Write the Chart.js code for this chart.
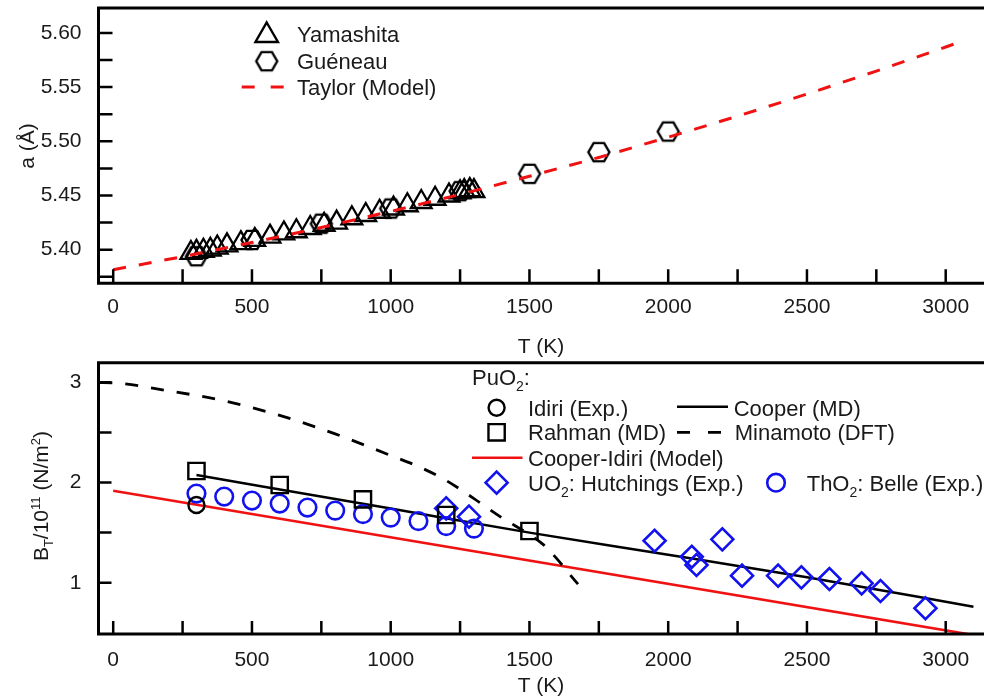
<!DOCTYPE html>
<html><head><meta charset="utf-8">
<script src="https://cdn.jsdelivr.net/npm/chart.js@4.4.0/dist/chart.umd.min.js"></script>
<style>
html,body{margin:0;padding:0;background:#fff;width:984px;height:698px;overflow:hidden;position:relative}
canvas{position:absolute;left:0}
#c1{top:0}
#c2{top:350px}
</style></head>
<body>
<canvas id="c1" width="984" height="360"></canvas>
<canvas id="c2" width="984" height="348"></canvas>
<script>
// ---------- tick values / labels ----------
const xMajorTicks = [0, 500, 1000, 1500, 2000, 2500, 3000];
const xTickLabels = ['0', '500', '1000', '1500', '2000', '2500', '3000'];
const xMinorTicks = [250, 750, 1250, 1750, 2250, 2750];
const aMajorTicks = [5.40, 5.45, 5.50, 5.55, 5.60];
const aTickLabels = ['5.40', '5.45', '5.50', '5.55', '5.60'];
const aMinorTicks = [5.375, 5.425, 5.475, 5.525, 5.575];
const bMajorTicks = [1, 2, 3];
const bTickLabels = ['1', '2', '3'];
const bMinorTicks = [1.5, 2.5];

// ---------- top panel: lattice parameter ----------
const yamashitaT = [280, 300, 325, 350, 375, 410, 460, 510, 565, 615, 660, 710, 760, 805, 860, 910, 960, 1010, 1060, 1110, 1160, 1210, 1250, 1265, 1285, 1300];
const yamashitaA = [5.397, 5.398, 5.399, 5.400, 5.402, 5.404, 5.406, 5.409, 5.412, 5.415, 5.417, 5.420, 5.423, 5.425, 5.429, 5.432, 5.435, 5.438, 5.441, 5.444, 5.447, 5.450, 5.453, 5.454, 5.455, 5.454];
const gueneauT = [300, 500, 750, 1000, 1250, 1500, 1750, 2000];
const gueneauA = [5.394, 5.409, 5.424, 5.438, 5.454, 5.470, 5.490, 5.509];
const taylorT = [0, 250, 500, 750, 1000, 1250, 1500, 1750, 2000, 2250, 2500, 2750, 3000, 3050];
const taylorA = [5.3815, 5.3936, 5.4066, 5.4205, 5.4353, 5.4510, 5.4677, 5.4851, 5.5038, 5.5232, 5.5436, 5.5648, 5.5870, 5.5915];

// ---------- bottom panel: bulk modulus ----------
const idiriT = [300];
const idiriB = [1.775];
const rahmanT = [300, 600, 900, 1200, 1500];
const rahmanB = [2.115, 1.975, 1.832, 1.676, 1.516];
const cooperT = [300, 1000, 1500, 2000, 2500, 3100];
const cooperB = [2.075, 1.74, 1.50, 1.28, 1.055, 0.76];
const minamotoT = [-50, 0, 200, 400, 600, 800, 1000, 1100, 1200, 1300, 1400, 1500, 1550, 1600, 1640, 1675];
const minamotoB = [2.998, 2.995, 2.915, 2.815, 2.67, 2.485, 2.27, 2.16, 2.02, 1.84, 1.65, 1.48, 1.38, 1.235, 1.10, 0.985];
const cooperIdiriT = [0, 3100];
const cooperIdiriB = [1.918, 0.477];
const hutchingsT = [1200, 1282, 1951, 2085, 2102, 2195, 2266, 2396, 2480, 2581, 2697, 2765, 2927];
const hutchingsB = [1.742, 1.659, 1.419, 1.259, 1.177, 1.433, 1.07, 1.07, 1.054, 1.037, 0.994, 0.917, 0.745];
const belleT = [300, 400, 500, 600, 700, 800, 900, 1000, 1100, 1200, 1300];
const belleB = [1.89, 1.86, 1.82, 1.79, 1.75, 1.72, 1.685, 1.65, 1.615, 1.565, 1.54];

// ---------- styling ----------
const FONT = "'Liberation Sans', Arial, Helvetica, sans-serif";
const TXT = '#1a1a1a';
const RED = '#f01212';
const BLUE = '#1212ee';
const X_MIN = -53, X_MAX = 3138;

const pts = (xs, ys) => xs.map((x, i) => ({x: x, y: ys[i]}));

// hexagon marker image
const hexImg = document.createElement('canvas');
hexImg.width = 26; hexImg.height = 26;
(function () {
  const hc = hexImg.getContext('2d');
  hc.strokeStyle = '#000'; hc.lineWidth = 2.4; hc.lineJoin = 'miter';
  hc.beginPath();
  for (let k = 0; k < 6; k++) {
    const ang = k * Math.PI / 3;
    const px = 13 + 10.5 * Math.cos(ang), py = 13 + 10.5 * Math.sin(ang);
    if (k) hc.lineTo(px, py); else hc.moveTo(px, py);
  }
  hc.closePath(); hc.stroke();
})();

function marker(ctx, style, x, y, r, color, lw) {
  ctx.save();
  ctx.strokeStyle = color; ctx.lineWidth = lw;
  ctx.beginPath();
  if (style === 'triangle') {
    let rad = 0;
    ctx.moveTo(x + Math.sin(rad) * r, y - Math.cos(rad) * r);
    rad += 2 * Math.PI / 3;
    ctx.lineTo(x + Math.sin(rad) * r, y - Math.cos(rad) * r);
    rad += 2 * Math.PI / 3;
    ctx.lineTo(x + Math.sin(rad) * r, y - Math.cos(rad) * r);
    ctx.closePath();
  } else if (style === 'circle') {
    ctx.arc(x, y, r, 0, Math.PI * 2);
  } else if (style === 'rect') {
    const s = Math.SQRT1_2 * r;
    ctx.rect(x - s, y - s, 2 * s, 2 * s);
  } else if (style === 'rectRot') {
    ctx.moveTo(x - r, y); ctx.lineTo(x, y - r); ctx.lineTo(x + r, y); ctx.lineTo(x, y + r); ctx.closePath();
  }
  ctx.stroke();
  ctx.restore();
}

function richWidth(ctx, segs, base) {
  let w = 0;
  segs.forEach(s => { ctx.font = (s.small ? Math.round(base * 0.64) : base) + 'px ' + FONT; w += ctx.measureText(s.t).width; });
  return w;
}
function drawRich(ctx, segs, x, y, base) {
  let cx = x;
  segs.forEach(s => {
    const size = s.small ? Math.round(base * 0.64) : base;
    ctx.font = size + 'px ' + FONT;
    ctx.fillText(s.t, cx, y + (s.dy || 0));
    cx += ctx.measureText(s.t).width;
  });
}

function framePlugin(id, xs, ys, tickLen, extra) {
  return {
    id: id,
    afterDraw(chart) {
      const ctx = chart.ctx, a = chart.chartArea, sx = chart.scales.x, sy = chart.scales.y;
      ctx.save();
      ctx.strokeStyle = '#000'; ctx.lineJoin = 'miter';
      ctx.lineWidth = 3;
      ctx.beginPath();
      ctx.moveTo(chart.width, a.top); ctx.lineTo(a.left, a.top);
      ctx.lineTo(a.left, a.bottom); ctx.lineTo(chart.width, a.bottom);
      ctx.stroke();
      ctx.lineWidth = 2.5;
      ctx.beginPath();
      xs.forEach(v => { const p = sx.getPixelForValue(v); ctx.moveTo(p, a.bottom); ctx.lineTo(p, a.bottom - tickLen); });
      ys.forEach(v => { const p = sy.getPixelForValue(v); ctx.moveTo(a.left, p); ctx.lineTo(a.left + tickLen, p); });
      ctx.stroke();
      ctx.restore();
      ctx.save();
      ctx.fillStyle = TXT; ctx.textBaseline = 'alphabetic'; ctx.textAlign = 'left';
      extra(chart, ctx);
      ctx.restore();
    }
  };
}

function zeroPad(s) { s.paddingLeft = 0; s.paddingRight = 0; s.paddingTop = 0; s.paddingBottom = 0; }

function xScaleOpts(h, pad) {
  return {
    type: 'linear', min: X_MIN, max: X_MAX,
    afterFit(s) { s.height = h; zeroPad(s); },
    afterBuildTicks(s) { s.ticks = xMajorTicks.map(v => ({value: v})); },
    grid: {display: false, drawTicks: false}, border: {display: false},
    ticks: {autoSkip: false, maxRotation: 0, padding: pad, color: TXT, font: {size: 21, family: FONT},
      callback: (v) => { const i = xMajorTicks.indexOf(v); return i >= 0 ? xTickLabels[i] : ''; }}
  };
}
function yScaleOpts(min, max, majors, labels) {
  return {
    type: 'linear', min: min, max: max,
    afterFit(s) { s.width = 98.5; zeroPad(s); },
    afterBuildTicks(s) { s.ticks = majors.map(v => ({value: v})); },
    grid: {display: false, drawTicks: false}, border: {display: false},
    ticks: {autoSkip: false, padding: 17, color: TXT, font: {size: 21, family: FONT},
      callback: (v) => { let i = -1; majors.forEach((m, k) => { if (Math.abs(m - v) < 1e-6) i = k; }); return i >= 0 ? labels[i] : ''; }}
  };
}

Chart.defaults.font.family = FONT;

// ---------- top chart ----------
new Chart(document.getElementById('c1'), {
  type: 'scatter',
  data: {datasets: [
    {label: 'Taylor (Model)', data: pts(taylorT, taylorA), showLine: true, borderColor: RED, borderWidth: 3,
      borderDash: [13, 13], pointRadius: 0, fill: false, tension: 0},
    {label: 'Guéneau', data: pts(gueneauT, gueneauA), pointStyle: hexImg, pointRadius: 11, borderColor: '#000', backgroundColor: 'rgba(0,0,0,0)'},
    {label: 'Yamashita', data: pts(yamashitaT, yamashitaA), pointStyle: 'triangle', pointRadius: 12,
      borderColor: '#000', backgroundColor: 'rgba(0,0,0,0)', borderWidth: 2.3}
  ]},
  options: {
    responsive: false, animation: false, devicePixelRatio: 1,
    layout: {autoPadding: false, padding: {top: 8, left: 0, right: 0, bottom: 0}},
    plugins: {legend: {display: false}, tooltip: {enabled: false}},
    scales: {x: xScaleOpts(76.7, 11), y: yScaleOpts(5.369, 5.623, aMajorTicks, aTickLabels)}
  },
  plugins: [framePlugin('frameTop', xMajorTicks.concat(xMinorTicks), aMajorTicks.concat(aMinorTicks), 14, function (chart, ctx) {
    ctx.font = '21px ' + FONT; ctx.textAlign = 'center';
    ctx.fillText('T (K)', 541, 352.5);
    ctx.save(); ctx.translate(33.5, 146); ctx.rotate(-Math.PI / 2); ctx.fillText('a (Å)', 0, 0); ctx.restore();
    ctx.textAlign = 'left'; ctx.font = '22px ' + FONT;
    marker(ctx, 'triangle', 266.7, 35.5, 13, '#000', 2.4);
    ctx.fillText('Yamashita', 297, 41.5);
    ctx.drawImage(hexImg, 266.7 - 13, 61.2 - 13);
    ctx.fillText('Guéneau', 297, 69);
    ctx.save(); ctx.strokeStyle = RED; ctx.lineWidth = 3; ctx.setLineDash([13, 16]);
    ctx.beginPath(); ctx.moveTo(241.7, 87); ctx.lineTo(284.5, 87); ctx.stroke(); ctx.restore();
    ctx.fillText('Taylor (Model)', 297, 94.5);
  })]
});

// ---------- bottom chart ----------
const OFF = 350;
new Chart(document.getElementById('c2'), {
  type: 'scatter',
  data: {datasets: [
    {label: 'Rahman (MD)', data: pts(rahmanT, rahmanB), pointStyle: 'rect', pointRadius: 11.5, borderColor: '#000', backgroundColor: 'rgba(0,0,0,0)', borderWidth: 2.4},
    {label: 'Idiri (Exp.)', data: pts(idiriT, idiriB), pointStyle: 'circle', pointRadius: 8, borderColor: '#000', backgroundColor: 'rgba(0,0,0,0)', borderWidth: 2.4},
    {label: 'UO2: Hutchings (Exp.)', data: pts(hutchingsT, hutchingsB), pointStyle: 'rectRot', pointRadius: 11, borderColor: BLUE, backgroundColor: 'rgba(0,0,0,0)', borderWidth: 2.6},
    {label: 'ThO2: Belle (Exp.)', data: pts(belleT, belleB), pointStyle: 'circle', pointRadius: 8.8, borderColor: BLUE, backgroundColor: 'rgba(0,0,0,0)', borderWidth: 2.6},
    {label: 'Cooper (MD)', data: pts(cooperT, cooperB), showLine: true, borderColor: '#000', borderWidth: 2.5, pointRadius: 0, cubicInterpolationMode: 'monotone', fill: false},
    {label: 'Minamoto (DFT)', data: pts(minamotoT, minamotoB), showLine: true, borderColor: '#000', borderWidth: 2.8, borderDash: [13, 13], pointRadius: 0, cubicInterpolationMode: 'monotone', fill: false},
    {label: 'Cooper-Idiri (Model)', data: pts(cooperIdiriT, cooperIdiriB), showLine: true, borderColor: RED, borderWidth: 2.5, pointRadius: 0, fill: false}
  ]},
  options: {
    responsive: false, animation: false, devicePixelRatio: 1,
    layout: {autoPadding: false, padding: {top: 12.7, left: 0, right: 0, bottom: 0}},
    plugins: {legend: {display: false}, tooltip: {enabled: false}},
    scales: {x: xScaleOpts(64, 14), y: yScaleOpts(0.488, 3.196, bMajorTicks, bTickLabels)}
  },
  plugins: [framePlugin('frameBot', xMajorTicks.concat(xMinorTicks), bMajorTicks.concat(bMinorTicks), 13, function (chart, ctx) {
    ctx.font = '21px ' + FONT; ctx.textAlign = 'center';
    ctx.fillText('T (K)', 541, 691.7 - OFF);
    const ySegs = [{t: 'B'}, {t: 'T', small: true, dy: 5}, {t: '/10'}, {t: '11', small: true, dy: -8}, {t: ' (N/m'}, {t: '2', small: true, dy: -8}, {t: ')'}];
    ctx.textAlign = 'left';
    const w = richWidth(ctx, ySegs, 21);
    ctx.save(); ctx.translate(48, 496 - OFF); ctx.rotate(-Math.PI / 2);
    drawRich(ctx, ySegs, -w / 2, 0, 21);
    ctx.restore();
    drawRich(ctx, [{t: 'PuO'}, {t: '2', small: true, dy: 6}, {t: ':'}], 472, 385.4 - OFF, 22);
    marker(ctx, 'circle', 496.6, 407.7 - OFF, 8, '#000', 2.4);
    ctx.font = '22px ' + FONT;
    ctx.fillText('Idiri (Exp.)', 528, 415.6 - OFF);
    ctx.save(); ctx.strokeStyle = '#000'; ctx.lineWidth = 2.5;
    ctx.beginPath(); ctx.moveTo(677, 406.7 - OFF); ctx.lineTo(728, 406.7 - OFF); ctx.stroke(); ctx.restore();
    ctx.fillText('Cooper (MD)', 733.7, 415.6 - OFF);
    marker(ctx, 'rect', 496.6, 432.3 - OFF, 11.5, '#000', 2.4);
    ctx.fillText('Rahman (MD)', 528, 440.2 - OFF);
    ctx.save(); ctx.strokeStyle = '#000'; ctx.lineWidth = 2.8; ctx.setLineDash([13, 18]);
    ctx.beginPath(); ctx.moveTo(677, 432.3 - OFF); ctx.lineTo(721, 432.3 - OFF); ctx.stroke(); ctx.restore();
    ctx.fillText('Minamoto (DFT)', 734.7, 440.2 - OFF);
    ctx.save(); ctx.strokeStyle = RED; ctx.lineWidth = 2.5;
    ctx.beginPath(); ctx.moveTo(472, 457.7 - OFF); ctx.lineTo(522.5, 457.7 - OFF); ctx.stroke(); ctx.restore();
    ctx.fillText('Cooper-Idiri (Model)', 528, 465.6 - OFF);
    marker(ctx, 'rectRot', 496.6, 482.7 - OFF, 11, BLUE, 2.6);
    drawRich(ctx, [{t: 'UO'}, {t: '2', small: true, dy: 6}, {t: ': Hutchings (Exp.)'}], 528, 490.6 - OFF, 22);
    marker(ctx, 'circle', 776, 482.7 - OFF, 8.8, BLUE, 2.6);
    drawRich(ctx, [{t: 'ThO'}, {t: '2', small: true, dy: 6}, {t: ': Belle (Exp.)'}], 806.7, 490.6 - OFF, 22);
  })]
});
</script>
</body></html>
